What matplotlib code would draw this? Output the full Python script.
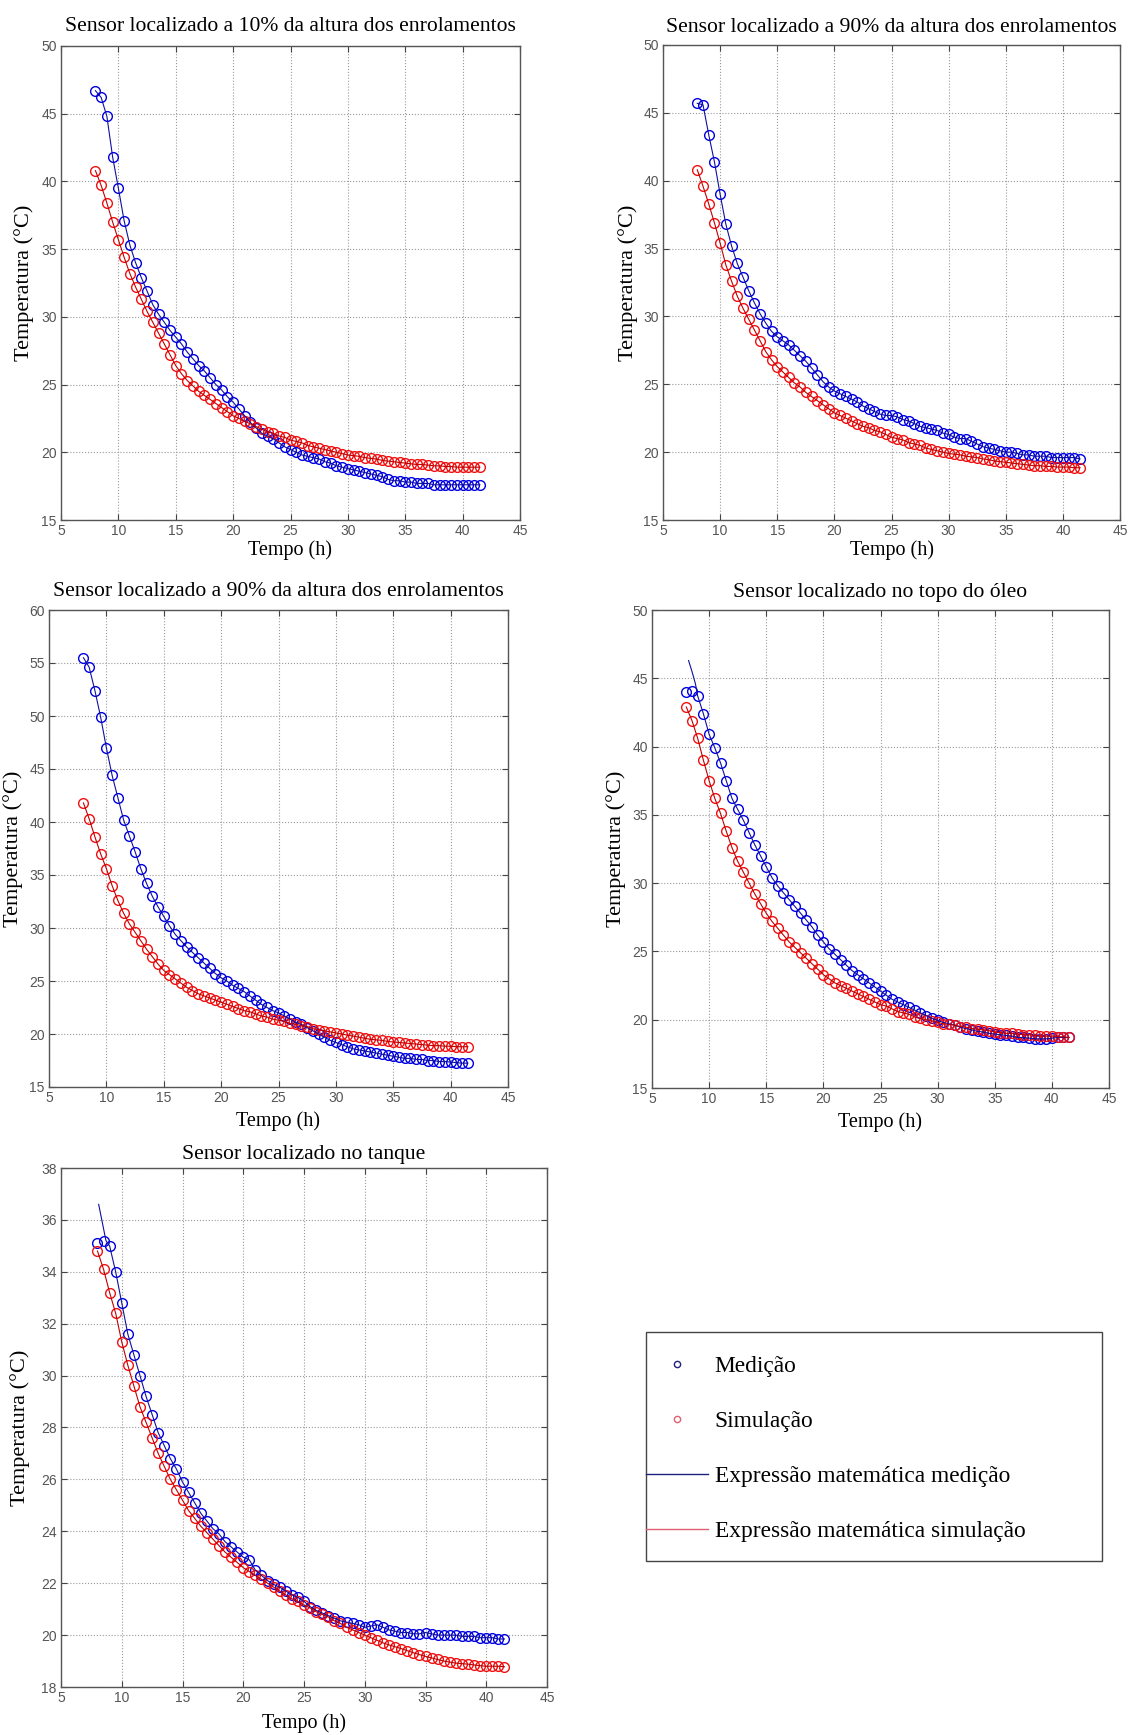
import numpy as np
import matplotlib
matplotlib.use('Agg')
import matplotlib.pyplot as plt
from matplotlib.lines import Line2D
from matplotlib.patches import Rectangle

plt.rcParams['font.family'] = ['Liberation Serif', 'DejaVu Serif']

# sampling instants (h), one reading every half hour
TEMPO = np.arange(8.0, 41.51, 0.5)

# ---- sensor at 10% of winding height
med_10 = [46.7, 46.2, 44.8, 41.8, 39.5, 37.1, 35.3, 34.0, 32.9, 31.9,
          30.9, 30.2, 29.6, 29.0, 28.5, 28.0, 27.4, 26.9, 26.4, 26.0,
          25.5, 25.0, 24.6, 24.1, 23.7, 23.2, 22.7, 22.2, 21.8, 21.4,
          21.2, 21.0, 20.7, 20.4, 20.2, 20.0, 19.8, 19.7, 19.6, 19.5,
          19.3, 19.2, 19.0, 18.9, 18.8, 18.7, 18.6, 18.5, 18.4, 18.3,
          18.2, 18.0, 17.9, 17.9, 17.8, 17.8, 17.7, 17.7, 17.7, 17.6,
          17.6, 17.6, 17.6, 17.6, 17.6, 17.6, 17.6, 17.6]
sim_10 = [40.8, 39.7, 38.4, 37.0, 35.7, 34.4, 33.2, 32.2, 31.3, 30.4,
          29.6, 28.8, 28.0, 27.2, 26.4, 25.8, 25.3, 24.9, 24.5, 24.2,
          23.9, 23.6, 23.3, 23.0, 22.7, 22.5, 22.3, 22.1, 21.9, 21.7,
          21.5, 21.4, 21.2, 21.1, 20.9, 20.8, 20.7, 20.5, 20.4, 20.3,
          20.2, 20.1, 20.0, 19.9, 19.8, 19.75, 19.7, 19.6, 19.55, 19.5,
          19.4, 19.35, 19.3, 19.25, 19.2, 19.15, 19.1, 19.1, 19.05, 19.0,
          19.0, 18.95, 18.95, 18.9, 18.9, 18.9, 18.9, 18.9]

# ---- sensor at 90% of winding height (first unit)
med_90a = [45.7, 45.6, 43.4, 41.4, 39.0, 36.8, 35.2, 33.9, 32.9, 31.9,
           31.0, 30.2, 29.5, 28.9, 28.5, 28.2, 27.9, 27.5, 27.1, 26.7,
           26.2, 25.7, 25.2, 24.8, 24.5, 24.3, 24.1, 23.9, 23.7, 23.4,
           23.2, 23.0, 22.8, 22.7, 22.7, 22.6, 22.4, 22.3, 22.1, 21.9,
           21.8, 21.7, 21.6, 21.4, 21.3, 21.1, 21.0, 21.0, 20.8, 20.6,
           20.4, 20.3, 20.2, 20.1, 20.0, 20.0, 19.9, 19.8, 19.8, 19.7,
           19.7, 19.7, 19.6, 19.6, 19.6, 19.6, 19.6, 19.5]
sim_90a = [40.8, 39.6, 38.3, 36.9, 35.4, 33.8, 32.6, 31.5, 30.6, 29.8,
           29.0, 28.2, 27.4, 26.8, 26.3, 25.9, 25.5, 25.1, 24.8, 24.4,
           24.1, 23.8, 23.5, 23.2, 22.9, 22.7, 22.5, 22.3, 22.1, 21.9,
           21.8, 21.6, 21.5, 21.3, 21.1, 21.0, 20.9, 20.7, 20.6, 20.5,
           20.3, 20.2, 20.1, 20.0, 19.9, 19.85, 19.8, 19.7, 19.65, 19.6,
           19.5, 19.45, 19.35, 19.3, 19.25, 19.2, 19.15, 19.1, 19.05, 19.0,
           19.0, 18.95, 18.95, 18.9, 18.9, 18.9, 18.85, 18.85]

# ---- sensor at 90% of winding height (second unit)
med_90b = [55.5, 54.6, 52.4, 49.9, 47.0, 44.4, 42.3, 40.2, 38.7, 37.2,
           35.6, 34.2, 33.0, 32.0, 31.1, 30.2, 29.4, 28.8, 28.2, 27.7,
           27.2, 26.7, 26.2, 25.7, 25.3, 25.0, 24.6, 24.3, 24.0, 23.6,
           23.2, 22.8, 22.5, 22.2, 22.0, 21.7, 21.4, 21.1, 20.9, 20.6,
           20.3, 20.0, 19.7, 19.4, 19.2, 19.0, 18.8, 18.6, 18.5, 18.4,
           18.3, 18.2, 18.1, 18.0, 17.9, 17.8, 17.7, 17.7, 17.6, 17.6,
           17.5, 17.5, 17.4, 17.4, 17.35, 17.3, 17.25, 17.25]
sim_90b = [41.8, 40.3, 38.6, 37.0, 35.6, 34.0, 32.6, 31.4, 30.4, 29.6,
           28.8, 28.0, 27.3, 26.6, 26.0, 25.6, 25.2, 24.8, 24.4, 24.1,
           23.8, 23.6, 23.4, 23.2, 23.0, 22.8, 22.6, 22.4, 22.2, 22.1,
           21.9, 21.7, 21.6, 21.4, 21.3, 21.2, 21.0, 20.9, 20.8, 20.7,
           20.5, 20.4, 20.3, 20.2, 20.1, 20.0, 19.9, 19.8, 19.7, 19.6,
           19.5, 19.45, 19.4, 19.3, 19.25, 19.2, 19.15, 19.1, 19.05, 19.0,
           18.95, 18.9, 18.9, 18.85, 18.85, 18.8, 18.8, 18.8]

# ---- sensor at the top of the oil
med_oleo = [44.0, 44.1, 43.7, 42.4, 40.9, 39.9, 38.8, 37.5, 36.2, 35.4,
            34.6, 33.7, 32.8, 32.0, 31.2, 30.4, 29.8, 29.3, 28.8, 28.3,
            27.8, 27.3, 26.8, 26.2, 25.7, 25.2, 24.8, 24.4, 24.0, 23.6,
            23.3, 23.0, 22.7, 22.4, 22.1, 21.8, 21.5, 21.3, 21.1, 20.9,
            20.7, 20.5, 20.3, 20.1, 19.95, 19.8, 19.7, 19.6, 19.45, 19.35,
            19.25, 19.15, 19.1, 19.0, 18.95, 18.9, 18.85, 18.8, 18.7, 18.7,
            18.65, 18.6, 18.6, 18.6, 18.65, 18.7, 18.7, 18.7]
sim_oleo = [42.9, 41.9, 40.6, 39.0, 37.5, 36.2, 35.1, 33.8, 32.6, 31.6,
            30.8, 30.0, 29.2, 28.5, 27.8, 27.2, 26.7, 26.2, 25.7, 25.3,
            24.9, 24.5, 24.1, 23.7, 23.3, 23.0, 22.7, 22.5, 22.3, 22.1,
            21.9, 21.7, 21.5, 21.3, 21.1, 21.0, 20.8, 20.6, 20.5, 20.4,
            20.2, 20.1, 20.0, 19.9, 19.8, 19.7, 19.65, 19.6, 19.5, 19.45,
            19.35, 19.3, 19.25, 19.2, 19.1, 19.05, 19.0, 19.0, 18.95, 18.9,
            18.9, 18.85, 18.8, 18.8, 18.8, 18.75, 18.75, 18.7]

# ---- sensor on the tank
med_tanque = [35.1, 35.2, 35.0, 34.0, 32.8, 31.6, 30.8, 30.0, 29.2, 28.5,
              27.8, 27.3, 26.8, 26.4, 25.9, 25.5, 25.1, 24.7, 24.4, 24.1,
              23.9, 23.6, 23.4, 23.2, 23.0, 22.9, 22.5, 22.3, 22.1, 21.95,
              21.85, 21.7, 21.55, 21.45, 21.3, 21.1, 20.95, 20.85, 20.75, 20.65,
              20.55, 20.5, 20.45, 20.4, 20.3, 20.35, 20.4, 20.3, 20.2, 20.15,
              20.1, 20.1, 20.05, 20.05, 20.1, 20.05, 20.0, 20.0, 20.0, 20.0,
              19.95, 19.95, 19.95, 19.9, 19.9, 19.9, 19.85, 19.85]
sim_tanque = [34.8, 34.1, 33.2, 32.4, 31.3, 30.4, 29.6, 28.8, 28.2, 27.6,
              27.0, 26.5, 26.0, 25.6, 25.2, 24.8, 24.5, 24.2, 23.95, 23.7,
              23.45, 23.2, 23.0, 22.8, 22.6, 22.45, 22.3, 22.15, 22.0, 21.85,
              21.7, 21.55, 21.4, 21.3, 21.15, 21.05, 20.9, 20.8, 20.7, 20.55,
              20.45, 20.3, 20.2, 20.1, 20.0, 19.9, 19.8, 19.7, 19.62, 19.55,
              19.48, 19.4, 19.32, 19.25, 19.18, 19.12, 19.06, 19.0, 18.96, 18.92,
              18.9, 18.88, 18.85, 18.82, 18.8, 18.8, 18.8, 18.78]

# start of the fitted expression where it rises above the first readings
fit_ini_t = {'oleo': [8.2, 8.5, 8.8], 'tanque': [8.1, 8.4, 8.7]}
fit_ini_y = {'oleo': [46.3, 45.5, 44.6], 'tanque': [36.6, 35.9, 35.2]}

TITULOS = ['Sensor localizado a 10% da altura dos enrolamentos',
           'Sensor localizado a 90% da altura dos enrolamentos',
           'Sensor localizado a 90% da altura dos enrolamentos',
           'Sensor localizado no topo do óleo',
           'Sensor localizado no tanque']
LEGENDA = ['Medição', 'Simulação',
           'Expressão matemática medição', 'Expressão matemática simulação']

W, H = 1133, 1735
# axes boxes in pixels: left, right, top, bottom
CAIXAS = [(61, 520, 46, 520), (663, 1120, 45, 520),
          (49, 508, 610, 1087), (652, 1109, 610, 1088),
          (61, 547, 1168, 1687)]
YLIM = [(15, 50, 5), (15, 50, 5), (15, 60, 5), (15, 50, 5), (18, 38, 2)]
SERIES = [(med_10, sim_10, None), (med_90a, sim_90a, None),
          (med_90b, sim_90b, None), (med_oleo, sim_oleo, 'oleo'),
          (med_tanque, sim_tanque, 'tanque')]
YLAB_X = [24, 628, 13, 616, 20]          # centre of y label, px
XLAB_OFF = [30, 30, 34, 34, 36]          # centre of x label below axes, px
TIT_OFF = [19, 17, 18, 18, 14]           # centre of title above axes, px

fig = plt.figure(figsize=(W / 100, H / 100), dpi=100)

for i, (cx, lim, ser) in enumerate(zip(CAIXAS, YLIM, SERIES)):
    l, r, t, b = cx
    w, h = r - l, b - t
    ax = fig.add_axes([l / W, 1 - b / H, w / W, h / H])
    med, sim, chave = ser
    ax.plot(TEMPO, med, 'o', mfc='none', mec='#0000e0', ms=7.0, mew=1.0)
    ax.plot(TEMPO, sim, 'o', mfc='none', mec='#f01010', ms=7.0, mew=1.0)
    if chave:
        tf = np.concatenate([fit_ini_t[chave], TEMPO[2:]])
        yf = np.concatenate([fit_ini_y[chave], med[2:]])
    else:
        tf, yf = TEMPO, med
    ax.plot(tf, yf, '-', color='#1010a0', lw=0.8)
    ax.plot(TEMPO, sim, '-', color='#c00000', lw=0.8)

    ax.set_xlim(5, 45)
    ax.set_ylim(lim[0], lim[1])
    ax.set_xticks(np.arange(5, 46, 5))
    ax.set_yticks(np.arange(lim[0], lim[1] + 0.1, lim[2]))
    ax.grid(True, linestyle=':', color='#999999', lw=0.8)
    ax.tick_params(direction='in', top=True, right=True, length=4,
                   labelsize=10, labelcolor='#555555', color='#444444', pad=3)
    for lab in ax.get_xticklabels() + ax.get_yticklabels():
        lab.set_family(['Liberation Sans', 'DejaVu Sans'])
    for s in ax.spines.values():
        s.set_color('#555555')
        s.set_linewidth(1.0)
    ax.text(0.5, 1 + TIT_OFF[i] / h, TITULOS[i], transform=ax.transAxes,
            ha='center', va='center', fontsize=15.6)
    ax.set_xlabel('Tempo (h)', fontsize=14.5)
    ax.xaxis.set_label_coords(0.5, -XLAB_OFF[i] / h)
    ax.set_ylabel('Temperatura (°C)', fontsize=16)
    ax.yaxis.set_label_coords((YLAB_X[i] - l) / w, 0.5)
    ax.xaxis.label.set_va('center')
    ax.yaxis.label.set_va('center')

# legend in its own box
l, r, t, b = 646, 1102, 1332, 1561
fig.add_artist(Rectangle((l / W, 1 - b / H), (r - l) / W, (b - t) / H,
                         transform=fig.transFigure, fill=False,
                         ec='#444444', lw=1.0))
hs = [Line2D([], [], ls='none', marker='o', mfc='none', mec='#202080', ms=4.5),
      Line2D([], [], ls='none', marker='o', mfc='none', mec='#e06070', ms=4.5),
      Line2D([], [], color='#202080', lw=1.0),
      Line2D([], [], color='#e06070', lw=1.0)]
fig.legend(hs, LEGENDA, loc='upper left', bbox_to_anchor=(l / W, 1 - 1356 / H),
           fontsize=16.8, frameon=False, borderaxespad=0, borderpad=0,
           handlelength=2.66, handletextpad=0.28, labelspacing=1.44)

fig.savefig('out.png', dpi=100)
